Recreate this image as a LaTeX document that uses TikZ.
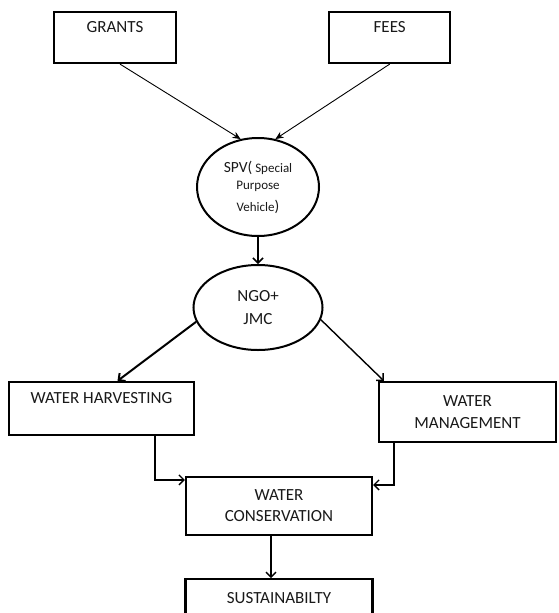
\documentclass[tikz,border=0pt]{standalone}
\usepackage{fontspec}
\setmainfont{Carlito}
\usetikzlibrary{arrows.meta,positioning,shapes.geometric}

\begin{document}
\begin{tikzpicture}[x=1pt, y=-1pt]
    \tikzstyle{block} = [rectangle, draw, line width=2.2pt, align=center, inner sep=0pt, text=black!90, font=\fontsize{17}{21}\selectfont]
    \tikzstyle{bubble} = [ellipse, draw, line width=2pt, align=center, inner sep=0pt, text=black!90]
    \tikzstyle{feed} = [->, >={Stealth[length=8pt,width=7pt]}, line width=0.9pt]
    \tikzstyle{flow} = [->, >={Straight Barb[length=5pt,width=10pt]}, line width=1.4pt]

    \useasboundingbox (0,0) rectangle (559,613);
    \clip (0,0) rectangle (559,613);

    % Funding sources
    \node [block, minimum width=122pt, minimum height=51pt] (grants) at (115,37.5) {GRANTS\\\mbox{}};
    \node [block, minimum width=121pt, minimum height=51pt, right=151pt of grants] (fees) {FEES\\\mbox{}};

    % Vehicle and partners
    \node [bubble, minimum width=122pt, minimum height=98pt, font=\fontsize{13}{17}\selectfont] (spv) at (258,187) {{\fontsize{15.5}{17}\selectfont SPV(} Special\\ Purpose\\[5pt] Vehicle{\fontsize{15.5}{17}\selectfont )}};
    \node [bubble, minimum width=129pt, minimum height=85pt, font=\fontsize{17}{23}\selectfont, below=27pt of spv] (ngo) {NGO+\\JMC};

    % Water activities
    \node [block, minimum width=185pt, minimum height=53pt] (harvest) at (101.5,408.5) {WATER HARVESTING\\\mbox{}};
    \node [block, minimum width=177pt, minimum height=60pt, font=\fontsize{17}{22}\selectfont] (manage) at (467.5,412) {WATER\\MANAGEMENT};
    \node [block, minimum width=186pt, minimum height=58pt] (conserve) at (279,506) {WATER\\CONSERVATION};
    \node [block, minimum width=187pt, minimum height=38pt, below=42pt of conserve] (sustain) {SUSTAINABILTY};

    % Connections
    \draw [feed] ([xshift=5pt]grants.south) -- (spv.110);
    \draw [feed] (fees.south) -- (spv.70);
    \draw [flow, line width=1.5pt] (spv) -- (ngo);
    \draw [flow, line width=2pt] (ngo.193) -- ([xshift=16pt]harvest.north);
    \draw [flow] (ngo.349) -- ([xshift=6pt]manage.north west);
    \draw [flow] ([xshift=53.5pt]harvest.south) |- ([yshift=-4pt]conserve.north west);
    \draw [flow] ([xshift=16pt]manage.south west) |- ([yshift=-9pt]conserve.north east);
    \draw [flow] ([xshift=-8pt]conserve.south) -- ([xshift=-8pt]sustain.north);

\end{tikzpicture}
\end{document}
